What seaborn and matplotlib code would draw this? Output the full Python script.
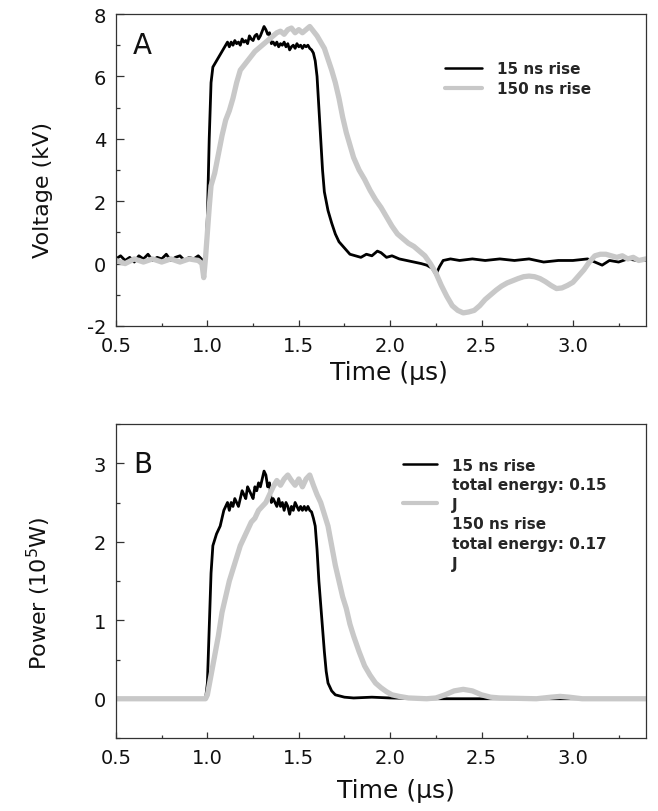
import matplotlib
matplotlib.use("Agg")
import matplotlib.pyplot as plt
from matplotlib.lines import Line2D
from matplotlib.ticker import MultipleLocator, FormatStrFormatter
import seaborn as sns
import pandas as pd

# ---------------- data ----------------
# Panel A: voltage (kV), 15 ns rise
t_a15 = [0.50, 0.525, 0.55, 0.575, 0.60, 0.625, 0.65, 0.675, 0.70, 0.725, 0.75, 0.775, 0.80, 0.825,
         0.85, 0.875, 0.90, 0.925, 0.95, 0.975, 0.99, 1.00, 1.01, 1.02, 1.03, 1.05, 1.07, 1.09,
         1.11, 1.12, 1.13, 1.14, 1.15, 1.16, 1.17, 1.18, 1.19, 1.20, 1.21, 1.22, 1.23, 1.24, 1.25,
         1.26, 1.27, 1.28, 1.29, 1.30, 1.31, 1.32, 1.33, 1.34, 1.35, 1.36, 1.37, 1.38, 1.39, 1.40,
         1.41, 1.42, 1.43, 1.44, 1.45, 1.46, 1.47, 1.48, 1.49, 1.50, 1.51, 1.52, 1.53, 1.54, 1.55,
         1.56, 1.57, 1.58, 1.59, 1.60, 1.61, 1.62, 1.63, 1.64, 1.66, 1.68, 1.70, 1.72, 1.75, 1.78,
         1.81, 1.84, 1.87, 1.90, 1.93, 1.95, 1.98, 2.01, 2.05, 2.09, 2.13, 2.17, 2.20, 2.23, 2.25,
         2.27, 2.29, 2.33, 2.38, 2.45, 2.52, 2.60, 2.68, 2.76, 2.84, 2.92, 3.00, 3.08, 3.12, 3.16,
         3.20, 3.25, 3.30, 3.35, 3.40]
v_a15 = [0.15, 0.25, 0.10, 0.20, 0.05, 0.25, 0.15, 0.30, 0.10, 0.20, 0.15, 0.30, 0.10, 0.20,
         0.25, 0.10, 0.20, 0.15, 0.25, 0.10, 0.15, 1.5, 4.0, 5.8, 6.3, 6.5, 6.7, 6.9,
         7.1, 6.95, 7.1, 7.0, 7.15, 7.05, 7.1, 7.0, 7.2, 7.1, 7.15, 7.05, 7.3, 7.2, 7.15,
         7.3, 7.35, 7.2, 7.3, 7.45, 7.6, 7.5, 7.35, 7.4, 7.05, 7.1, 7.0, 7.1, 6.95, 7.05,
         7.0, 7.1, 6.95, 7.05, 6.85, 6.95, 7.0, 6.9, 7.05, 6.95, 7.0, 6.9, 7.0, 6.95, 7.0,
         6.9, 6.85, 6.75, 6.5, 6.0, 5.0, 4.0, 3.0, 2.3, 1.7, 1.3, 0.95, 0.7, 0.5, 0.3,
         0.25, 0.2, 0.3, 0.25, 0.4, 0.35, 0.2, 0.25, 0.15, 0.1, 0.05, 0.0, -0.05, -0.15, -0.35,
         -0.1, 0.1, 0.15, 0.1, 0.15, 0.1, 0.15, 0.1, 0.15, 0.05, 0.1, 0.1, 0.15, 0.05, -0.05,
         0.1, 0.05, 0.15, 0.1, 0.1]

# Panel A: voltage (kV), 150 ns rise
t_a150 = [0.50, 0.55, 0.60, 0.65, 0.70, 0.75, 0.80, 0.85, 0.90, 0.95, 0.97, 0.98, 0.99, 1.00,
          1.01, 1.02, 1.04, 1.06, 1.08, 1.10, 1.12, 1.14, 1.16, 1.18, 1.20, 1.22, 1.24, 1.26,
          1.28, 1.30, 1.32, 1.34, 1.36, 1.38, 1.40, 1.42, 1.44, 1.46, 1.48, 1.50, 1.52, 1.54,
          1.56, 1.58, 1.60, 1.62, 1.64, 1.66, 1.68, 1.70, 1.72, 1.74, 1.76, 1.78, 1.80, 1.83,
          1.86, 1.89, 1.92, 1.95, 1.98, 2.01, 2.04, 2.07, 2.10, 2.13, 2.16, 2.19, 2.22, 2.25,
          2.28, 2.31, 2.34, 2.37, 2.40, 2.43, 2.46, 2.49, 2.52, 2.55, 2.58, 2.61, 2.64, 2.67,
          2.70, 2.73, 2.76, 2.79, 2.82, 2.85, 2.88, 2.91, 2.94, 2.97, 3.00, 3.03, 3.06, 3.09,
          3.12, 3.15, 3.18, 3.21, 3.24, 3.27, 3.30, 3.33, 3.36, 3.40]
v_a150 = [0.10, 0.0, 0.15, 0.05, 0.15, 0.05, 0.15, 0.05, 0.15, 0.10, 0.0, -0.45, 0.2, 1.0,
          1.8, 2.5, 2.9, 3.5, 4.1, 4.6, 4.9, 5.3, 5.8, 6.2, 6.35, 6.5, 6.65, 6.8,
          6.9, 7.0, 7.1, 7.2, 7.3, 7.4, 7.45, 7.35, 7.5, 7.55, 7.4, 7.5, 7.4, 7.5,
          7.6, 7.45, 7.3, 7.1, 6.9, 6.55, 6.2, 5.8, 5.3, 4.7, 4.2, 3.8, 3.4, 3.0,
          2.7, 2.35, 2.05, 1.8, 1.5, 1.2, 0.95, 0.8, 0.65, 0.55, 0.4, 0.25, 0.0, -0.3,
          -0.7, -1.05, -1.35, -1.5, -1.58, -1.55, -1.5, -1.35, -1.15, -1.0, -0.85, -0.72, -0.62, -0.55,
          -0.48, -0.42, -0.4, -0.42, -0.48, -0.58, -0.7, -0.8, -0.78, -0.7, -0.6, -0.4, -0.2, 0.05,
          0.25, 0.3, 0.3, 0.25, 0.2, 0.25, 0.15, 0.2, 0.1, 0.15]

# Panel B: power (1e5 W), 15 ns rise
t_b15 = [0.50, 0.99, 1.00, 1.01, 1.02, 1.03, 1.05, 1.07, 1.09, 1.11, 1.12, 1.13, 1.14, 1.15,
         1.16, 1.17, 1.18, 1.19, 1.20, 1.21, 1.22, 1.23, 1.24, 1.25, 1.26, 1.27, 1.28, 1.29,
         1.30, 1.31, 1.32, 1.33, 1.34, 1.35, 1.36, 1.37, 1.38, 1.39, 1.40, 1.41, 1.42, 1.43,
         1.44, 1.45, 1.46, 1.47, 1.48, 1.49, 1.50, 1.51, 1.52, 1.53, 1.54, 1.55, 1.56, 1.57,
         1.58, 1.59, 1.60, 1.61, 1.62, 1.63, 1.64, 1.65, 1.66, 1.68, 1.70, 1.75, 1.80, 1.90,
         2.00, 2.20, 3.40]
p_b15 = [0.0, 0.0, 0.2, 0.9, 1.6, 1.95, 2.1, 2.2, 2.4, 2.5, 2.4, 2.5, 2.45, 2.55,
         2.5, 2.45, 2.55, 2.65, 2.6, 2.55, 2.7, 2.65, 2.6, 2.55, 2.7, 2.65, 2.75, 2.7,
         2.8, 2.9, 2.85, 2.7, 2.75, 2.5, 2.55, 2.5, 2.45, 2.55, 2.45, 2.5, 2.4, 2.5,
         2.45, 2.35, 2.45, 2.4, 2.5, 2.45, 2.4, 2.45, 2.4, 2.45, 2.4, 2.45, 2.4, 2.38,
         2.3, 2.2, 1.9, 1.5, 1.2, 0.9, 0.6, 0.35, 0.2, 0.1, 0.05, 0.02, 0.01, 0.02,
         0.01, 0.0, 0.0]

# Panel B: power (1e5 W), 150 ns rise
t_b150 = [0.50, 0.99, 1.00, 1.02, 1.04, 1.06, 1.08, 1.10, 1.12, 1.14, 1.16, 1.18, 1.20, 1.22,
          1.24, 1.26, 1.28, 1.30, 1.32, 1.34, 1.36, 1.38, 1.40, 1.42, 1.44, 1.46, 1.48, 1.50,
          1.52, 1.54, 1.56, 1.58, 1.60, 1.62, 1.64, 1.66, 1.68, 1.70, 1.72, 1.74, 1.76, 1.78,
          1.80, 1.83, 1.86, 1.89, 1.92, 1.95, 1.98, 2.01, 2.05, 2.10, 2.20, 2.25, 2.30, 2.35,
          2.40, 2.45, 2.50, 2.55, 2.60, 2.80, 2.88, 2.93, 2.98, 3.05, 3.40]
p_b150 = [0.0, 0.0, 0.05, 0.3, 0.55, 0.8, 1.1, 1.3, 1.5, 1.65, 1.8, 1.95, 2.05, 2.15,
          2.25, 2.3, 2.4, 2.45, 2.5, 2.6, 2.7, 2.78, 2.72, 2.8, 2.85, 2.78, 2.72, 2.8,
          2.7, 2.8, 2.85, 2.72, 2.6, 2.5, 2.35, 2.2, 1.95, 1.7, 1.5, 1.3, 1.15, 0.95,
          0.8, 0.6, 0.42, 0.3, 0.2, 0.14, 0.09, 0.05, 0.03, 0.01, 0.0, 0.01, 0.05, 0.1,
          0.12, 0.1, 0.05, 0.02, 0.01, 0.0, 0.02, 0.03, 0.02, 0.0, 0.0]

legend_a = ["15 ns rise", "150 ns rise"]
legend_b = ["15 ns rise", "total energy: 0.15", "J", "150 ns rise", "total energy: 0.17", "J"]
x_ticks = [0.5, 1.0, 1.5, 2.0, 2.5, 3.0]

# ---------------- styling ----------------
sns.set_style("ticks")
plt.rcParams["font.family"] = ["DejaVu Sans"]
plt.rcParams["axes.unicode_minus"] = False
plt.rcParams["axes.edgecolor"] = "#333333"
plt.rcParams["axes.linewidth"] = 0.9

BLACK = "#000000"
GRAY = "#c8c8c8"

fig = plt.figure(figsize=(6.58, 8.12), dpi=100)
axA = fig.add_axes([0.1763, 0.5973, 0.8055, 0.3842])
axB = fig.add_axes([0.1763, 0.0899, 0.8055, 0.3867])

dfA15 = pd.DataFrame({"t": t_a15, "v": v_a15})
dfA150 = pd.DataFrame({"t": t_a150, "v": v_a150})
dfB15 = pd.DataFrame({"t": t_b15, "p": p_b15})
dfB150 = pd.DataFrame({"t": t_b150, "p": p_b150})

sns.lineplot(data=dfA15, x="t", y="v", ax=axA, color=BLACK, lw=2.0, sort=False,
             estimator=None, legend=False)
sns.lineplot(data=dfA150, x="t", y="v", ax=axA, color=GRAY, lw=3.8, sort=False,
             estimator=None, legend=False)
sns.lineplot(data=dfB15, x="t", y="p", ax=axB, color=BLACK, lw=2.0, sort=False,
             estimator=None, legend=False)
sns.lineplot(data=dfB150, x="t", y="p", ax=axB, color=GRAY, lw=3.8, sort=False,
             estimator=None, legend=False)


def style_axis(ax, ylim, ymaj, ymin):
    ax.set_xlim(0.5, 3.4)
    ax.set_ylim(*ylim)
    ax.set_xticks(x_ticks)
    ax.xaxis.set_major_formatter(FormatStrFormatter("%.1f"))
    ax.xaxis.set_minor_locator(MultipleLocator(0.25))
    ax.yaxis.set_major_locator(MultipleLocator(ymaj))
    ax.yaxis.set_minor_locator(MultipleLocator(ymin))
    ax.tick_params(axis="both", which="both", direction="in", top=False, right=False,
                   labelsize=14, pad=7, color="#333333", labelcolor="#111111")
    ax.tick_params(axis="x", which="major", length=4.3, width=0.9)
    ax.tick_params(axis="x", which="minor", length=2.5, width=0.9)
    ax.tick_params(axis="y", which="major", length=5.5, width=0.9)
    ax.tick_params(axis="y", which="minor", length=3.2, width=0.9)
    for s in ax.spines.values():
        s.set_visible(True)
        s.set_color("#333333")
        s.set_linewidth(0.9)


style_axis(axA, (-2, 8), 2, 1)
style_axis(axB, (-0.5, 3.5), 1, 0.5)

axA.set_xlabel("Time (μs)", fontsize=18, color="#111111")
axA.set_ylabel("Voltage (kV)", fontsize=16, color="#111111")
axA.xaxis.set_label_coords(0.515, -0.108)
axA.yaxis.set_label_coords(-0.119, 0.44)

axB.set_xlabel("Time (μs)", fontsize=18, color="#111111")
axB.set_ylabel("Power (10$^5$W)", fontsize=16, color="#111111")
axB.xaxis.set_label_coords(0.528, -0.128)
axB.yaxis.set_label_coords(-0.119, 0.465)

axA.text(0.032, 0.944, "A", transform=axA.transAxes, fontsize=20, va="top", ha="left",
         color="#111111")
axB.text(0.032, 0.918, "B", transform=axB.transAxes, fontsize=20, va="top", ha="left",
         color="#111111")

# legends
hA = [Line2D([], [], color=BLACK, lw=1.8), Line2D([], [], color=GRAY, lw=3.0)]
axA.legend(hA, legend_a, loc="upper left", bbox_to_anchor=(0.621, 0.848), frameon=False,
           borderpad=0, borderaxespad=0, handlelength=2.4, handletextpad=1.0,
           labelspacing=0.3, prop={"weight": "bold", "size": 11})

none = Line2D([], [], color="none")
hB = [Line2D([], [], color=BLACK, lw=1.8), none, Line2D([], [], color=GRAY, lw=3.0),
      none, none, none]
axB.legend(hB, legend_b, loc="upper left", bbox_to_anchor=(0.5415, 0.893), frameon=False,
           borderpad=0, borderaxespad=0, handlelength=2.2, handletextpad=1.0,
           labelspacing=0.3, prop={"weight": "bold", "size": 11})

fig.savefig("out.png", dpi=100)
